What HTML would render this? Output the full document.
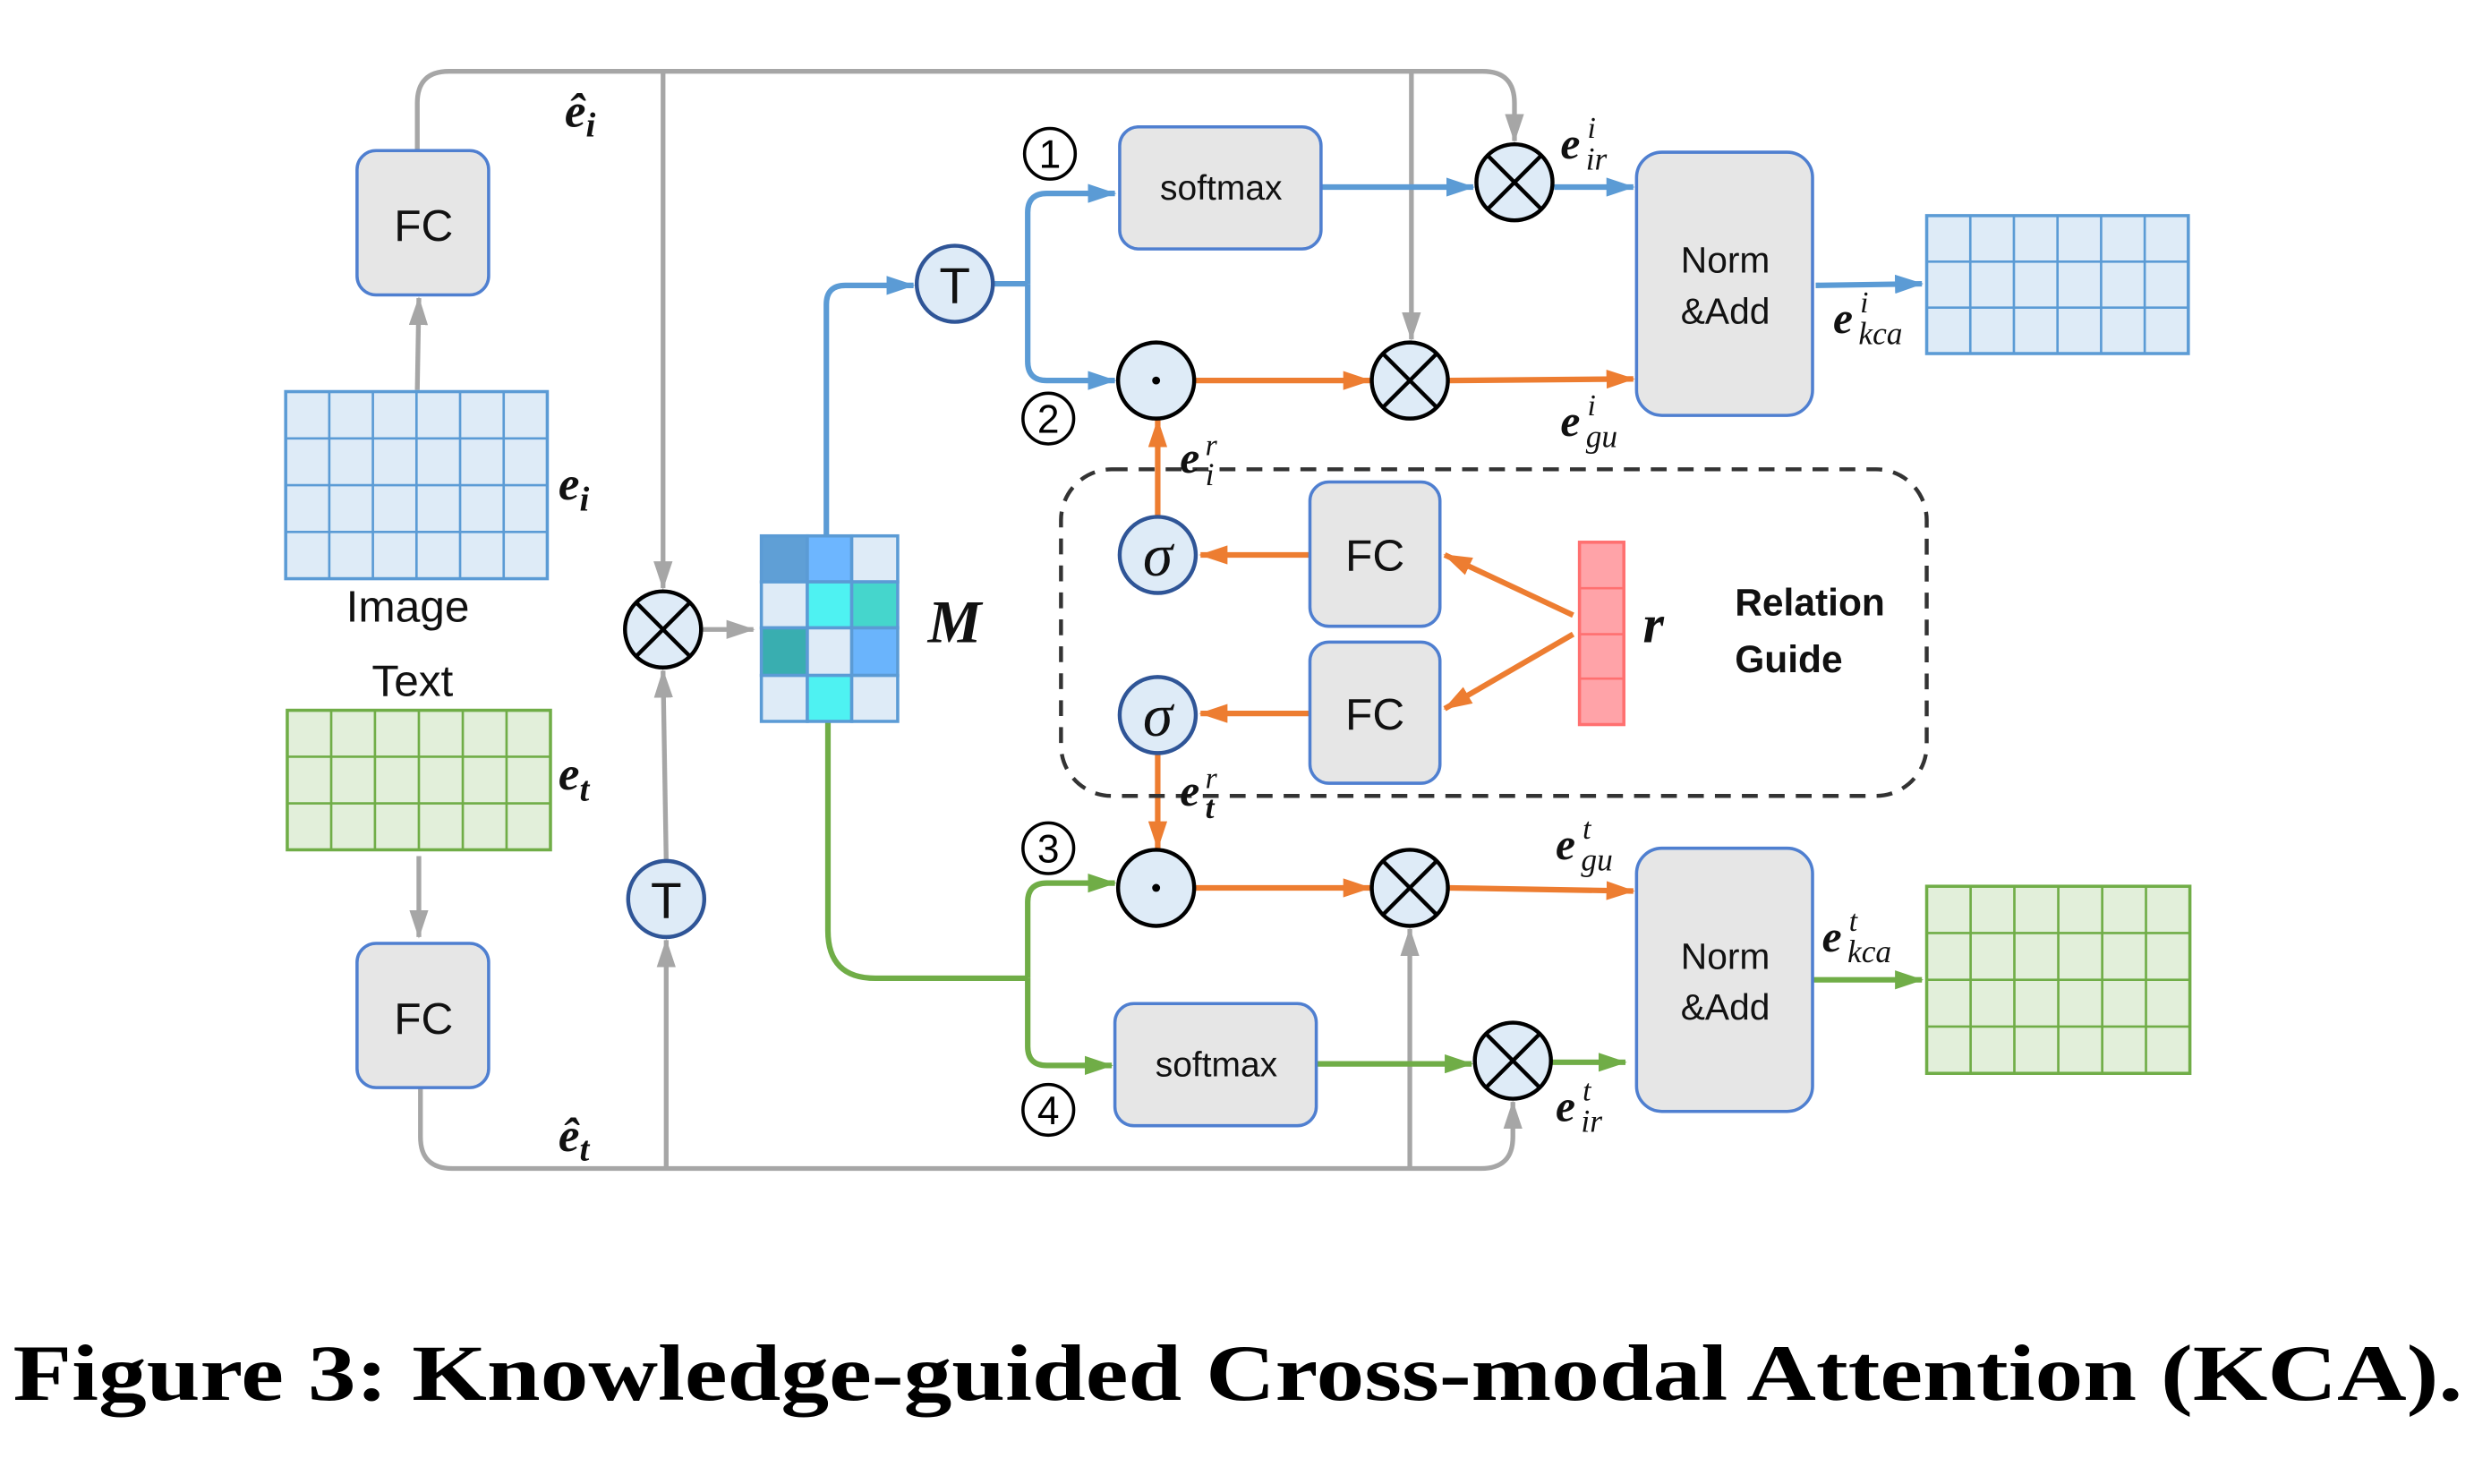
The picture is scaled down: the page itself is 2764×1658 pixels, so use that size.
<!DOCTYPE html>
<html><head><meta charset="utf-8"><style>
html,body{margin:0;padding:0;background:#fff;}
svg{display:block;}
text{font-family:"Liberation Sans",sans-serif;}
svg .m, svg .m text, svg text.m{font-family:"Liberation Serif",serif;font-style:italic;}
</style></head><body>
<svg width="2764" height="1658" viewBox="0 0 1560 936" xmlns="http://www.w3.org/2000/svg">
<defs>
<marker id="ab" markerWidth="18" markerHeight="12" refX="17" refY="6" orient="auto" markerUnits="userSpaceOnUse"><path d="M0,0 L18,6 L0,12 z" fill="#5b9bd5"/></marker>
<marker id="ao" markerWidth="18" markerHeight="12" refX="17" refY="6" orient="auto" markerUnits="userSpaceOnUse"><path d="M0,0 L18,6 L0,12 z" fill="#ed7d31"/></marker>
<marker id="agr" markerWidth="18" markerHeight="12" refX="17" refY="6" orient="auto" markerUnits="userSpaceOnUse"><path d="M0,0 L18,6 L0,12 z" fill="#70ad47"/></marker>
<marker id="agy" markerWidth="18" markerHeight="12" refX="17" refY="6" orient="auto" markerUnits="userSpaceOnUse"><path d="M0,0 L18,6 L0,12 z" fill="#a6a6a6"/></marker>
</defs>

<g fill="none" stroke="#a6a6a6" stroke-width="3">
<path d="M263,95 V65 Q263,45 283,45 H935 Q955,45 955,65 V89" marker-end="url(#agy)"/>
<path d="M418,45 V371" marker-end="url(#agy)"/>
<path d="M890,45 V214" marker-end="url(#agy)"/>
<path d="M263,246 L264,188" marker-end="url(#agy)"/>
<path d="M264,540 V591" marker-end="url(#agy)"/>
<path d="M265,686 V717 Q265,737 285,737 H934 Q954,737 954,717 V695" marker-end="url(#agy)"/>
<path d="M420,737 V593" marker-end="url(#agy)"/>
<path d="M420,543 L418,423" marker-end="url(#agy)"/>
<path d="M889,737 V586" marker-end="url(#agy)"/>
<path d="M443,397 H475" marker-end="url(#agy)"/>
</g>

<g fill="none" stroke="#5b9bd5" stroke-width="3.5">
<path d="M521,338 V192 Q521,180 533,180 H576" marker-end="url(#ab)"/>
<path d="M626,179 H648"/>
<path d="M648,179 V134 Q648,122 660,122 H703" marker-end="url(#ab)"/>
<path d="M648,179 V228 Q648,240 660,240 H703" marker-end="url(#ab)"/>
<path d="M833,118 H929" marker-end="url(#ab)"/>
<path d="M980,118 H1030" marker-end="url(#ab)"/>
<path d="M1145,180 L1212,179" marker-end="url(#ab)"/>
</g>

<g fill="none" stroke="#70ad47" stroke-width="3.5">
<path d="M522,455 V587 Q522,617 552,617 H648"/>
<path d="M648,617 V569 Q648,557 660,557 H703" marker-end="url(#agr)"/>
<path d="M648,617 V660 Q648,672 660,672 H701" marker-end="url(#agr)"/>
<path d="M830,671 H928" marker-end="url(#agr)"/>
<path d="M979,670 H1025" marker-end="url(#agr)"/>
<path d="M1143,618 H1212" marker-end="url(#agr)"/>
</g>

<g fill="none" stroke="#ed7d31" stroke-width="3.5">
<path d="M753,240 H864" marker-end="url(#ao)"/>
<path d="M914,240 L1030,239" marker-end="url(#ao)"/>
<path d="M730,326 V265" marker-end="url(#ao)"/>
<path d="M826,350 H757" marker-end="url(#ao)"/>
<path d="M826,450 H757" marker-end="url(#ao)"/>
<path d="M992,388 L911,350" marker-end="url(#ao)"/>
<path d="M992,400 L911,447" marker-end="url(#ao)"/>
<path d="M730,475 V535" marker-end="url(#ao)"/>
<path d="M753,560 H864" marker-end="url(#ao)"/>
<path d="M914,560 L1030,562" marker-end="url(#ao)"/>
</g>

<rect x="669" y="296" width="546" height="206" rx="32" fill="none" stroke="#333" stroke-width="2.5" stroke-dasharray="10,7"/>

<g fill="#e6e6e6" stroke="#4f7fd0" stroke-width="2">
<rect x="225" y="95" width="83" height="91" rx="12"/>
<rect x="225" y="595" width="83" height="91" rx="12"/>
<rect x="826" y="304" width="82" height="91" rx="12"/>
<rect x="826" y="405" width="82" height="89" rx="12"/>
<rect x="706" y="80" width="127" height="77" rx="12"/>
<rect x="703" y="633" width="127" height="77" rx="12"/>
<rect x="1032" y="96" width="111" height="166" rx="16"/>
<rect x="1032" y="535" width="111" height="166" rx="16"/>
</g>
<g font-size="28" fill="#111" text-anchor="middle">
<text x="267" y="152">FC</text>
<text x="267" y="652">FC</text>
<text x="867" y="360">FC</text>
<text x="867" y="460">FC</text>
</g>
<g font-size="22" fill="#111" text-anchor="middle">
<text x="770" y="126">softmax</text>
<text x="767" y="679">softmax</text>
</g>
<g font-size="23" fill="#111" text-anchor="middle">
<text x="1088" y="172">Norm</text>
<text x="1088" y="204">&amp;Add</text>
<text x="1088" y="611">Norm</text>
<text x="1088" y="643">&amp;Add</text>
</g>

<g stroke="#5b9bd5" stroke-width="2" fill="#deebf7">
<rect x="180" y="247" width="165" height="118"/>
<path d="M207.5,247V365M235,247V365M262.5,247V365M290,247V365M317.5,247V365M180,276.5H345M180,306H345M180,335.5H345" fill="none" stroke-width="1.5"/>
<rect x="1215" y="136" width="165" height="87"/>
<path d="M1242.5,136V223M1270,136V223M1297.5,136V223M1325,136V223M1352.5,136V223M1215,165H1380M1215,194H1380" fill="none" stroke-width="1.5"/>
</g>
<g stroke="#70ad47" stroke-width="2" fill="#e2efda">
<rect x="181" y="448" width="166" height="88"/>
<path d="M208.7,448V536M236.3,448V536M264,448V536M291.7,448V536M319.3,448V536M181,477.3H347M181,506.7H347" fill="none" stroke-width="1.5"/>
<rect x="1215" y="559" width="166" height="118"/>
<path d="M1242.7,559V677M1270.3,559V677M1298,559V677M1325.7,559V677M1353.3,559V677M1215,588.5H1381M1215,618H1381M1215,647.5H1381" fill="none" stroke-width="1.5"/>
</g>

<g stroke="#5b9bd5" stroke-width="2">
<rect x="480" y="338" width="29" height="29" fill="#5f9fd6"/>
<rect x="509" y="338" width="28" height="29" fill="#6db6ff"/>
<rect x="537" y="338" width="29" height="29" fill="#deebf7"/>
<rect x="480" y="367" width="29" height="29" fill="#deebf7"/>
<rect x="509" y="367" width="28" height="29" fill="#4ef2f2"/>
<rect x="537" y="367" width="29" height="29" fill="#45d6cc"/>
<rect x="480" y="396" width="29" height="30" fill="#39aeb0"/>
<rect x="509" y="396" width="28" height="30" fill="#deebf7"/>
<rect x="537" y="396" width="29" height="30" fill="#6ab4fc"/>
<rect x="480" y="426" width="29" height="29" fill="#deebf7"/>
<rect x="509" y="426" width="28" height="29" fill="#4ef2f2"/>
<rect x="537" y="426" width="29" height="29" fill="#deebf7"/>
</g>

<g stroke="#ff7070" stroke-width="2" fill="#ffa3a8">
<rect x="996" y="342" width="28" height="115"/>
<path d="M996,371H1024M996,400H1024M996,428H1024" fill="none" stroke-width="1.5"/>
</g>

<g fill="#deebf7" stroke="#000" stroke-width="2.5">
<circle cx="418" cy="397" r="24"/>
<circle cx="955" cy="115" r="24"/>
<circle cx="889" cy="240" r="24"/>
<circle cx="889" cy="560" r="24"/>
<circle cx="954" cy="669" r="24"/>
<circle cx="729" cy="240" r="24"/>
<circle cx="729" cy="560" r="24"/>
</g>
<g stroke="#000" stroke-width="2.5">
<path d="M401,380L435,414M435,380L401,414"/>
<path d="M938,98L972,132M972,98L938,132"/>
<path d="M872,223L906,257M906,223L872,257"/>
<path d="M872,543L906,577M906,543L872,577"/>
<path d="M937,652L971,686M971,652L937,686"/>
</g>
<circle cx="729" cy="240" r="2.5" fill="#000"/>
<circle cx="729" cy="560" r="2.5" fill="#000"/>
<g fill="#deebf7" stroke="#2f5597" stroke-width="2.5">
<circle cx="602" cy="179" r="24"/>
<circle cx="420" cy="567" r="24"/>
<circle cx="730" cy="350" r="24"/>
<circle cx="730" cy="451" r="24"/>
</g>
<g font-size="32" fill="#111" text-anchor="middle">
<text x="602" y="191">T</text>
<text x="420" y="579">T</text>
</g>
<g font-size="38" fill="#111" text-anchor="middle">
<text class="m" x="730" y="363">σ</text>
<text class="m" x="730" y="464">σ</text>
</g>

<!-- circled numbers -->
<g fill="none" stroke="#000" stroke-width="2">
<circle cx="662" cy="97" r="16"/>
<circle cx="661" cy="264" r="16"/>
<circle cx="661" cy="535" r="16"/>
<circle cx="661" cy="700" r="16"/>
</g>
<g font-size="25" fill="#000" text-anchor="middle">
<text x="662" y="106">1</text>
<text x="661" y="273">2</text>
<text x="661" y="544">3</text>
<text x="661" y="709">4</text>
</g>

<g fill="#111">
<text font-size="28" x="257" y="392" text-anchor="middle">Image</text>
<text font-size="28" x="260" y="439" text-anchor="middle">Text</text>
<text font-size="24" font-weight="bold" x="1094" y="388">Relation</text>
<text font-size="24" font-weight="bold" x="1094" y="424">Guide</text>
</g>
<g fill="#111">
<text class="m" x="356" y="80" font-size="30" font-weight="bold">ê<tspan font-size="22" dy="6">i</tspan></text>
<text class="m" x="352" y="726" font-size="30" font-weight="bold">ê<tspan font-size="22" dy="6">t</tspan></text>
<text class="m" x="352" y="315" font-size="30" font-weight="bold">e<tspan font-size="22" dy="7">i</tspan></text>
<text class="m" x="352" y="498" font-size="30" font-weight="bold">e<tspan font-size="22" dy="7">t</tspan></text>
<text class="m" x="585" y="405" font-size="38" font-weight="bold">M</text>
<text class="m" x="1036" y="405" font-size="34" font-weight="bold">r</text>
<text class="m" x="984" y="100" font-size="28" font-weight="bold">e</text><text class="m" x="1001" y="87" font-size="19">i</text><text class="m" x="1000" y="107" font-size="20">ir</text>
<text class="m" x="984" y="275" font-size="28" font-weight="bold">e</text><text class="m" x="1001" y="262" font-size="19">i</text><text class="m" x="1000" y="282" font-size="20">gu</text>
<text class="m" x="1156" y="210" font-size="28" font-weight="bold">e</text><text class="m" x="1173" y="197" font-size="19">i</text><text class="m" x="1172" y="217" font-size="20">kca</text>
<text class="m" x="744" y="298" font-size="28" font-weight="bold">e</text><text class="m" x="760" y="287" font-size="19">r</text><text class="m" x="760" y="306" font-size="20">i</text>
<text class="m" x="744" y="508" font-size="28" font-weight="bold">e</text><text class="m" x="760" y="497" font-size="19">r</text><text class="m" x="760" y="516" font-size="20" font-weight="bold">t</text>
<text class="m" x="981" y="542" font-size="28" font-weight="bold">e</text><text class="m" x="998" y="529" font-size="19">t</text><text class="m" x="997" y="549" font-size="20">gu</text>
<text class="m" x="1149" y="600" font-size="28" font-weight="bold">e</text><text class="m" x="1166" y="587" font-size="19">t</text><text class="m" x="1165" y="607" font-size="20">kca</text>
<text class="m" x="981" y="707" font-size="28" font-weight="bold">e</text><text class="m" x="998" y="694" font-size="19">t</text><text class="m" x="997" y="714" font-size="20">ir</text>
</g>

<text x="8" y="883" font-size="50" font-weight="bold" fill="#000" style="font-family:'Liberation Serif',serif" textLength="1545" lengthAdjust="spacingAndGlyphs">Figure 3: Knowledge-guided Cross-modal Attention (KCA).</text>
</svg>
</body></html>
